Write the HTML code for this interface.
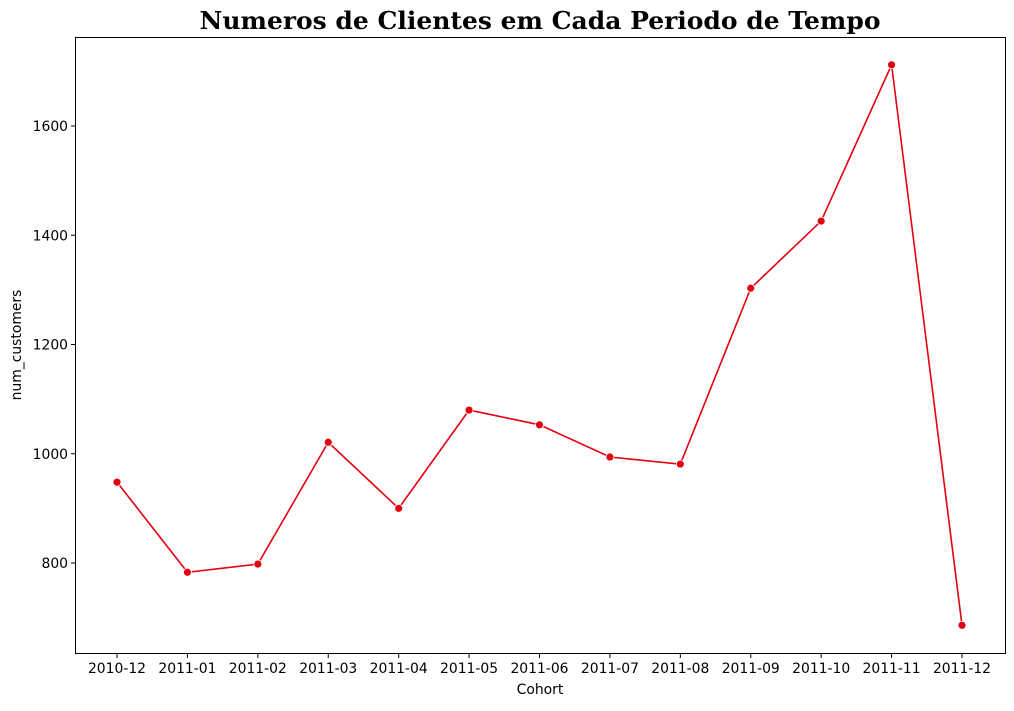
<!DOCTYPE html>
<html><head><meta charset="utf-8"><style>
body{margin:0;background:#fff;width:1014px;height:706px;overflow:hidden}
svg text{font-family:"DejaVu Sans",sans-serif;font-size:13.9px;fill:#000}
</style></head><body>
<svg width="1014" height="706">
<text x="540" y="29" text-anchor="middle" textLength="681" lengthAdjust="spacingAndGlyphs" style="font-family:'DejaVu Serif',serif;font-size:24px;font-weight:bold">Numeros de Clientes em Cada Periodo de Tempo</text>
<g id="axes"></g>
<rect x="75.5" y="37.5" width="930" height="616" fill="none" stroke="#000" stroke-width="1"/>
<text x="540" y="694" text-anchor="middle">Cohort</text>
<text transform="translate(21,345) rotate(-90)" text-anchor="middle">num_customers</text>
</svg>
<script>
const categories=["2010-12","2011-01","2011-02","2011-03","2011-04","2011-05","2011-06","2011-07","2011-08","2011-09","2011-10","2011-11","2011-12"];
const values=[948,783,798,1021,900,1080,1053,994,981,1303,1426,1712,686];
const yTicks=[800,1000,1200,1400,1600];
const ns="http://www.w3.org/2000/svg";
const g=document.getElementById('axes');
const x=i=>117+i*(962-117)/(categories.length-1);
const y=v=>563-(v-800)*(563-126)/800;
function mk(t,a){const e=document.createElementNS(ns,t);for(const k in a)e.setAttribute(k,a[k]);g.appendChild(e);return e;}
yTicks.forEach(v=>{
 const l=mk('line',{x1:71,x2:75,y1:y(v),y2:y(v),stroke:'#000'});
 
 
 const t=mk('text',{x:68,y:y(v)+5,'text-anchor':'end'});t.textContent=v;
 
 
});
categories.forEach((c,i)=>{
 const l=mk('line',{x1:x(i),x2:x(i),y1:654,y2:658,stroke:'#000'});
 
 
 const t=mk('text',{x:x(i),y:673,'text-anchor':'middle'});t.textContent=c;
 
 
});
const p=mk('polyline',{points:values.map((v,i)=>x(i)+','+y(v)).join(' '),fill:'none',stroke:'#e3000f','stroke-width':1.6});


values.forEach((v,i)=>{
 const c=mk('circle',{cx:x(i),cy:y(v),r:4,fill:'#e3000f',stroke:'#fff','stroke-width':0.8});
 
 
});
</script>
</body></html>
